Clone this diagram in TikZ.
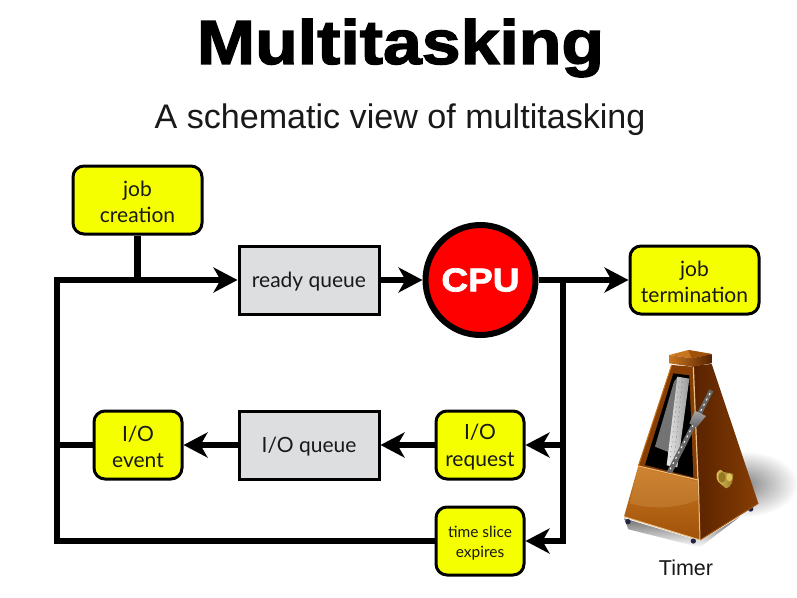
\documentclass[tikz,border=0pt]{standalone}
\usepackage{fontspec}
\setmainfont{Liberation Sans}
\newfontfamily\boxfont{Lato}
\newfontfamily\heavyfont[FakeBold=2.2,FakeStretch=1.12]{Liberation Sans Bold}
\usetikzlibrary{arrows.meta,fadings,shadings}
\definecolor{boxyellow}{RGB}{245,255,0}
\definecolor{cpured}{RGB}{255,0,0}
\definecolor{queuegrey}{RGB}{221,222,224}
\definecolor{inktext}{RGB}{25,25,25}
\definecolor{woodA}{RGB}{88,34,0}
\definecolor{woodB}{RGB}{135,62,4}
\definecolor{woodC}{RGB}{200,118,30}
\definecolor{woodD}{RGB}{160,82,10}
\definecolor{woodE}{RGB}{232,190,130}
\definecolor{footblue}{RGB}{35,35,70}
\definecolor{brassA}{RGB}{150,120,35}
\definecolor{brassB}{RGB}{225,195,95}
\tikzfading[name=softshadow,inner color=transparent!50,outer color=transparent!100]
\tikzfading[name=fadedown,top color=transparent!40,bottom color=transparent!100]
\newcommand\padtop[1]{\rule{0pt}{#1}}
\newcommand\onebase[1]{\raisebox{-7.5pt}[0pt][0pt]{#1}}
\tikzset{
  x=1pt,y=-1pt,
  taskbox/.style={draw=black,line width=3pt,rounded corners=11pt,fill=boxyellow,minimum width=88pt,minimum height=68pt,inner sep=0pt,align=center,font=\boxfont\fontsize{21}{26}\selectfont,text=inktext},
  widebox/.style={taskbox,minimum width=129pt},
  queuebox/.style={draw=black,line width=3pt,fill=queuegrey,minimum width=140pt,minimum height=68pt,inner sep=0pt,font=\boxfont\fontsize{21}{26}\selectfont,text=inktext},
  flow/.style={line width=6.5pt,draw=black},
  flowarrow/.style={flow,-{Stealth[length=24pt,width=25pt,inset=7pt]}}
}
\begin{document}
\begin{tikzpicture}
\useasboundingbox (0,0) rectangle (797,597);
\fill[white] (0,0) rectangle (797,597);
\node[inner sep=0pt,font=\heavyfont\fontsize{62.3}{70}\selectfont] (title) at (400.5,48) {Multitasking};
\node[inner sep=0pt,font=\fontsize{34.1}{38}\selectfont,text=inktext] (subtitle) at (400,120) {A schematic view of multitasking};

\node[widebox] (creation) at (137.5,200) {\padtop{19.5pt}job\\[0.5pt]creation};
\node[queuebox] (ready) at (309,280) {\onebase{ready queue}};
\node[circle,draw=black,line width=6pt,fill=cpured,minimum size=110pt,inner sep=0pt,text=white,font=\heavyfont\fontsize{33}{38}\selectfont] (cpu) at (480.5,280) {CPU};
\node[widebox] (termination) at (694.5,280) {\padtop{19.5pt}job\\[0.5pt]termination};
\node[taskbox] (request) at (480,445) {\padtop{19.5pt}I/O\\[0.5pt]request};
\node[queuebox] (ioqueue) at (309,445) {\onebase{I/O queue}};
\node[taskbox] (event) at (138,445) {\padtop{19.5pt}I/O\\[0.5pt]event};
\node[taskbox,font=\boxfont\fontsize{15.5}{20}\selectfont] (slice) at (480,541) {\padtop{15.5pt}time slice\\expires};

\coordinate (leftTop) at (57,280);
\coordinate (leftMid) at (57,445);
\coordinate (leftBottom) at (57,541);
\coordinate (rightTop) at (563,280);
\coordinate (rightMid) at (563,445);
\coordinate (rightBottom) at (563,541);

\draw[flow] (creation.south) -- (creation.south |- leftTop);
\draw[flow] (slice.west) -- (leftBottom);
\draw[flow,line cap=rect] (leftBottom) -- (leftTop);
\draw[flowarrow] (leftTop) -- (ready.west);
\draw[flow] (event.west) -- (leftMid);
\draw[flowarrow] (ready.east) -- (cpu.west);
\draw[flowarrow] (cpu.east) -- (termination.west);
\draw[flow,line cap=rect] (rightTop) -- (rightBottom);
\draw[flowarrow] (rightMid) -- (request.east);
\draw[flowarrow] (rightBottom) -- (slice.east);
\draw[flowarrow] (request.west) -- (ioqueue.east);
\draw[flowarrow] (ioqueue.west) -- (event.east);

\node[inner sep=0pt,font=\fontsize{21.5}{26}\selectfont,text=inktext] (timer) at (686,568) {Timer};

% metronome: coordinates are those of a 3x enlargement of its corner
\begin{scope}[shift={(600,340)},x=0.3333pt,y=-0.3333pt]
  % shadows
  \fill[black,path fading=softshadow] (425,432) ellipse [x radius=170,y radius=100];
  \fill[black,path fading=fadedown] (72,535) -- (300,603) -- (420,530) -- (300,622) -- (85,568) -- cycle;
  % feet
  \fill[footblue] (84,545) circle [radius=8];
  \fill[footblue] (280,603) circle [radius=8];
  \fill[footblue] (452,507) circle [radius=8];
  % right face
  \shade[left color=woodA,right color=woodB] (278,78) -- (335,72) -- (475,490) -- (300,600) -- (292,415) -- cycle;
  \draw[woodD,line width=1pt] (475,490) -- (300,600);
  % frame of the window
  \fill[woodB] (215,75) -- (278,80) -- (295,420) -- (115,378) -- cycle;
  \draw[woodC,line width=1pt] (215,75) -- (115,378);
  \draw[woodE,line width=1.2pt] (280,80) -- (294,420);
  % window
  \fill[black] (220,100) -- (268,106) -- (280,412) -- (135,375) -- cycle;
  \fill[black!55] (222,125) -- (232,112) -- (215,340) -- (165,320) -- cycle;
  % ruler
  \shade[left color=black!8,right color=black!40] (232,110) -- (268,116) -- (232,382) -- (200,376) -- cycle;
  \draw[black!60,line width=.5pt,dash pattern=on 1pt off 4pt] (247,125) -- (222,360);
  \draw[black!60,line width=.5pt,dash pattern=on 1pt off 4pt] (237,125) -- (210,360);
  % base
  \shade[top color=woodC,bottom color=woodD] (115,378) -- (295,420) -- (300,600) -- (72,530) -- cycle;
  \fill[woodE,opacity=.2] (115,382) -- (292,424) -- (294,480) .. controls (220,510) and (140,505) .. (88,490) -- cycle;
  \draw[woodE,line width=1pt] (72,530) -- (300,600) (115,378) -- (295,420) -- (300,600);
  % pendulum
  \fill[black!60] (200,396) -- (216,400) -- (340,154) -- (328,148) -- cycle;
  \draw[white,line width=1pt,dash pattern=on 2pt off 4pt] (210,388) -- (332,156);
  \shade[top color=black!35,bottom color=black!60] (285,212) -- (318,228) -- (290,262) -- (268,250) -- cycle;
  % knob
  \shade[left color=brassB,right color=brassA] (356,392) .. controls (345,400) and (348,425) .. (362,432) -- (378,445) .. controls (392,445) and (402,420) .. (400,402) .. controls (390,398) and (375,398) .. (370,396) .. controls (366,388) and (360,388) .. (356,392) -- cycle;
  \fill[brassA] (366,412) ellipse [x radius=11,y radius=16];
  \fill[brassB] (388,412) ellipse [x radius=9,y radius=12];
  % cap
  \fill[woodC] (208,45) -- (265,30) -- (335,42) -- (275,55) -- cycle;
  \fill[woodD] (265,30) -- (335,42) -- (275,55) -- cycle;
  \shade[left color=woodC,right color=woodA] (208,45) -- (275,55) -- (335,42) -- (335,70) -- (278,80) -- (208,70) -- cycle;
\end{scope}
\end{tikzpicture}
\end{document}
